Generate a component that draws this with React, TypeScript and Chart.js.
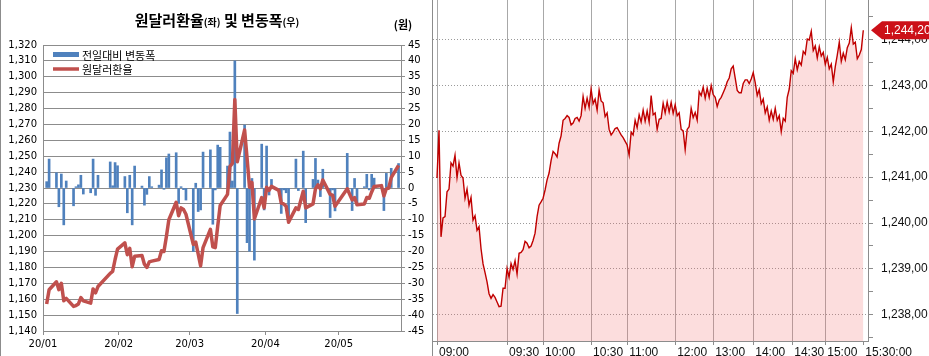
import React, { useEffect, useRef } from 'react';
import { Chart, registerables } from 'chart.js';

Chart.register(...registerables);

// ---------- Left chart data: daily USD/KRW (days since 2020-01-01) ----------
const tradeDays = [
  1, 2, 5, 6, 7, 8, 9, 12, 13, 14, 15, 16, 19, 20, 21, 22, 27, 28, 29, 30,
  33, 34, 35, 36, 37, 40, 41, 42, 43, 44, 47, 48, 49, 50, 51, 54, 55, 56, 57, 58,
  61, 62, 63, 64, 65, 68, 69, 70, 71, 72, 75, 76, 77, 78, 79, 82, 83, 84, 85, 86, 89, 90,
  91, 92, 93, 96, 97, 98, 99, 100, 103, 104, 106, 107, 110, 111, 112, 113, 114, 117, 118, 119,
  124, 126, 127, 128, 131, 132, 133, 134, 135, 138, 139, 140, 141, 142, 145,
];
const usdKrw = [
  1157.0, 1166.0, 1171.0, 1166.0, 1170.0, 1159.0, 1160.5, 1155.5, 1156.0, 1157.0, 1161.0, 1159.0, 1157.5, 1166.5, 1164.0, 1168.0, 1176.3, 1177.5, 1185.0, 1191.5,
  1195.5, 1188.0, 1192.0, 1180.5, 1187.0, 1187.5, 1182.0, 1180.0, 1183.5, 1184.0, 1185.0, 1190.5, 1190.0, 1199.5, 1210.0, 1221.0, 1212.5, 1217.5, 1216.5, 1213.5,
  1194.5, 1196.0, 1188.5, 1181.0, 1192.5, 1204.0, 1193.0, 1192.5, 1206.0, 1219.0, 1226.0, 1243.5, 1245.5, 1285.7, 1246.5, 1266.5, 1249.0, 1230.5, 1233.5, 1210.5, 1224.0, 1217.5,
  1230.5, 1228.5, 1231.0, 1228.5, 1220.5, 1220.0, 1218.5, 1208.5, 1217.5, 1216.5, 1228.0, 1217.5, 1220.0, 1229.5, 1232.0, 1229.5, 1235.0, 1226.0, 1225.5, 1218.5,
  1229.5, 1222.5, 1224.0, 1219.5, 1220.0, 1224.0, 1223.5, 1227.5, 1231.0, 1231.5, 1225.0, 1229.5, 1230.0, 1236.5, 1244.2,
];
const dailyChange = [
  2.0, 9.1, 4.8, -5.9, 4.4, -11.6, 2.2, -5.6, 0.4, 1.0, 4.0, -1.9, -1.5, 9.1, -2.3, 4.0, 8.2, 0.7, 8.0, 7.0,
  3.6, -7.8, 4.0, -11.6, 6.9, 0.6, -5.4, -2.0, 3.6, 0.4, 0.9, 5.7, -0.4, 9.5, 10.7, 11.1, -4.8, 0.4, -0.5, -3.8,
  -20.0, 1.5, -7.4, -6.9, 11.3, 12.0, -11.4, -0.6, 13.5, 12.8, 6.9, 17.6, 2.2, 40.0, -39.5, 19.8, -17.2, -19.9, 3.0, -22.7, 13.8, -6.9,
  13.2, -2.2, 2.7, -1.0, -8.0, -0.6, -1.5, -10.6, 9.1, -0.8, 11.6, -10.9, 2.7, 9.3, 2.5, -2.7, 5.9, -9.3, -0.6, -7.2,
  10.9, -7.1, 3.0, -5.4, 0.4, 4.3, -0.6, 4.3, 3.1, 0.5, -7.1, 4.6, 0.5, 6.2, 7.7,
];
const monthTickDays = [0, 31, 60, 91, 121];
const monthTickLabels = ['20/01', '20/02', '20/03', '20/04', '20/05'];
const changeLabel = '전일대비 변동폭';
const rateLabel = '원달러환율';
const titleParts = ['원달러환율', '(좌)', ' 및 변동폭', '(우)'];
const unitLabel = '(원)';

// ---------- Right chart data: intraday (tick index) ----------
const intradayRate = [
  1240.98, 1242.02, 1239.70, 1240.11, 1240.14, 1240.68, 1240.74, 1241.31, 1241.24, 1241.48,
  1240.99, 1241.31, 1241.04, 1240.98, 1240.54, 1240.74, 1240.39, 1240.56, 1240.06, 1240.16,
  1239.84, 1239.92, 1239.44, 1239.11, 1238.92, 1238.72, 1238.46, 1238.36, 1238.44, 1238.38,
  1238.28, 1238.18, 1238.19, 1238.58, 1238.58, 1239.01, 1238.82, 1239.12, 1238.99, 1239.18,
  1238.89, 1239.34, 1239.36, 1239.42, 1239.60, 1239.56, 1239.46, 1239.50, 1239.62, 1239.78,
  1240.14, 1240.39, 1240.46, 1240.54, 1240.72, 1240.94, 1241.09, 1241.36, 1241.56, 1241.51,
  1241.44, 1241.74, 1241.90, 1242.24, 1242.28, 1242.34, 1242.30, 1242.14, 1242.18, 1242.28,
  1242.30, 1242.22, 1242.34, 1242.76, 1242.50, 1242.72, 1242.52, 1242.92, 1242.60, 1242.70,
  1242.46, 1242.90, 1242.66, 1242.62, 1242.32, 1242.40, 1242.04, 1241.92, 1241.98, 1242.06,
  1242.08, 1242.00, 1241.92, 1241.86, 1241.78, 1241.70, 1241.48, 1241.98, 1241.92, 1242.24,
  1242.08, 1242.36, 1242.20, 1242.46, 1242.22, 1242.44, 1242.20, 1242.78, 1242.36, 1242.40,
  1242.04, 1242.26, 1242.28, 1242.61, 1242.40, 1242.64, 1242.42, 1242.63, 1242.39, 1242.58,
  1242.34, 1242.40, 1242.04, 1242.01, 1241.60, 1242.04, 1242.10, 1242.50, 1242.30, 1242.41,
  1242.24, 1242.86, 1242.78, 1242.96, 1242.72, 1242.94, 1242.74, 1243.00, 1242.80, 1242.74,
  1242.54, 1242.68, 1242.74, 1242.84, 1242.94, 1243.08, 1243.16, 1243.36, 1243.42, 1243.16,
  1242.89, 1242.84, 1242.84, 1243.04, 1243.12, 1243.12, 1243.04, 1243.14, 1243.28, 1243.06,
  1242.78, 1242.91, 1242.60, 1242.70, 1242.40, 1242.53, 1242.24, 1242.44, 1242.26, 1242.50,
  1242.24, 1242.34, 1241.99, 1242.28, 1242.22, 1242.74, 1242.92, 1243.32, 1243.26, 1243.58,
  1243.34, 1243.52, 1243.44, 1243.74, 1243.68, 1244.01, 1243.99, 1244.18, 1243.76, 1243.86,
  1243.60, 1243.84, 1243.64, 1243.72, 1243.46, 1243.61, 1243.36, 1243.46, 1243.08, 1243.41,
  1243.66, 1243.94, 1243.52, 1243.70, 1243.56, 1243.82, 1243.92, 1244.26, 1243.90, 1243.94,
  1243.58, 1243.66, 1243.78, 1244.20,
];
const timeTickIdx = [0, 35, 53, 77, 95, 119, 138, 158, 177.5, 194, 213];
const timeTickLabels = ['09:00', '09:30', '10:00', '10:30', '11:00', '12:00', '13:00', '14:00', '14:30', '15:00', '15:30:00'];

const GRID = '#8c8c8c';
const NUM_FONT = 'DejaVu Sans, Noto Sans CJK KR, sans-serif';
const KR_FONT = 'Noto Sans CJK KR, sans-serif';

const commaInt = (v: number) => Math.round(v).toLocaleString('en-US');
const commaDec = (v: number) =>
  v.toLocaleString('en-US', { minimumFractionDigits: 2, maximumFractionDigits: 2 }).replace('.', ',');

const leftDecor = {
  id: 'leftDecor',
  afterDraw(chart: any) {
    const ctx = chart.ctx as CanvasRenderingContext2D;
    ctx.save();
    // panel border
    ctx.strokeStyle = GRID;
    ctx.lineWidth = 1;
    ctx.beginPath();
    ctx.moveTo(0.5, 0);
    ctx.lineTo(0.5, chart.height);
    ctx.stroke();

    // title
    const fonts = [`bold 15px ${KR_FONT}`, `bold 10px ${KR_FONT}`, `bold 15px ${KR_FONT}`, `bold 10px ${KR_FONT}`];
    let total = 0;
    const widths = titleParts.map((t, i) => {
      ctx.font = fonts[i];
      const w = ctx.measureText(t).width;
      total += w;
      return w;
    });
    let x = 217 - total / 2;
    ctx.fillStyle = '#000';
    ctx.textBaseline = 'alphabetic';
    ctx.textAlign = 'left';
    titleParts.forEach((t, i) => {
      ctx.font = fonts[i];
      ctx.fillText(t, x, 26);
      x += widths[i];
    });
    ctx.font = `bold 11px ${KR_FONT}`;
    ctx.textAlign = 'center';
    ctx.textBaseline = 'middle';
    ctx.fillText(unitLabel, 403, 25);

    // legend
    const ds = chart.data.datasets;
    ctx.fillStyle = ds[0].backgroundColor;
    ctx.fillRect(53, 52, 26, 5);
    ctx.strokeStyle = ds[1].borderColor;
    ctx.lineWidth = 3.5;
    ctx.beginPath();
    ctx.moveTo(53, 69);
    ctx.lineTo(79, 69);
    ctx.stroke();
    ctx.fillStyle = '#000';
    ctx.font = `11px ${KR_FONT}`;
    ctx.textAlign = 'left';
    ctx.textBaseline = 'middle';
    ctx.fillText(ds[0].label, 82, 56);
    ctx.fillText(ds[1].label, 82, 70);
    ctx.restore();
  },
};

const priceTag = {
  id: 'priceTag',
  afterDraw(chart: any) {
    const ctx = chart.ctx as CanvasRenderingContext2D;
    const data = chart.data.datasets[0].data;
    const last = data[data.length - 1].y;
    const y = chart.scales.y.getPixelForValue(last);
    const x0 = chart.chartArea.right + 3;
    ctx.save();
    ctx.fillStyle = '#cc1018';
    ctx.beginPath();
    ctx.moveTo(x0, y);
    ctx.lineTo(x0 + 11, y - 9);
    ctx.lineTo(chart.width, y - 9);
    ctx.lineTo(chart.width, y + 9);
    ctx.lineTo(x0 + 11, y + 9);
    ctx.closePath();
    ctx.fill();
    ctx.fillStyle = '#fff';
    ctx.font = '12px Liberation Sans, Arial, sans-serif';
    ctx.textAlign = 'left';
    ctx.textBaseline = 'middle';
    ctx.fillText(commaDec(last), x0 + 13, y + 0.5);
    ctx.restore();
  },
};

export default function App() {
  const leftRef = useRef<HTMLCanvasElement>(null);
  const rightRef = useRef<HTMLCanvasElement>(null);

  useEffect(() => {
    const left = new Chart(leftRef.current as HTMLCanvasElement, {
      type: 'bar',
      data: {
        datasets: [
          {
            type: 'bar',
            label: changeLabel,
            data: tradeDays.map((d, i) => ({ x: d + 0.5, y: dailyChange[i] })),
            backgroundColor: '#4f81bd',
            barThickness: 2,
            yAxisID: 'y1',
            order: 2,
          } as any,
          {
            type: 'line',
            label: rateLabel,
            data: tradeDays.map((d, i) => ({ x: d + 0.5, y: usdKrw[i] })),
            borderColor: '#c0504d',
            backgroundColor: '#c0504d',
            borderWidth: 3.5,
            pointRadius: 0,
            tension: 0,
            borderJoinStyle: 'round',
            yAxisID: 'y',
            order: 1,
          } as any,
        ],
      },
      options: {
        responsive: false,
        animation: false,
        devicePixelRatio: 1,
        layout: { padding: { top: 45, left: 0, right: 0, bottom: 0 } },
        plugins: { legend: { display: false }, tooltip: { enabled: false } },
        scales: {
          x: {
            type: 'linear',
            min: 0,
            max: 146.5,
            offset: false,
            afterBuildTicks: (s: any) => {
              s.ticks = monthTickDays.map((v) => ({ value: v }));
            },
            afterFit: (s: any) => {
              s.height = 25;
              s.paddingLeft = 0;
              s.paddingRight = 0;
            },
            ticks: {
              autoSkip: false,
              maxRotation: 0,
              padding: 3,
              color: '#000',
              font: { family: NUM_FONT, size: 10 },
              callback: (v: any) => monthTickLabels[monthTickDays.indexOf(Number(v))] ?? '',
            },
            grid: { offset: false, drawOnChartArea: false, tickLength: 4, tickColor: GRID },
            border: { color: GRID },
          },
          y: {
            position: 'left',
            min: 1140,
            max: 1320,
            ticks: {
              stepSize: 10,
              padding: 6,
              color: '#000',
              font: { family: NUM_FONT, size: 10 },
              callback: (v: any) => commaInt(Number(v)),
            },
            afterFit: (s: any) => {
              s.width = 43;
              s.paddingTop = 0;
              s.paddingBottom = 0;
            },
            grid: { color: GRID, drawTicks: false },
            border: { color: GRID },
          },
          y1: {
            position: 'right',
            min: -45,
            max: 45,
            ticks: {
              stepSize: 5,
              padding: 3,
              color: '#000',
              font: { family: NUM_FONT, size: 10 },
            },
            afterFit: (s: any) => {
              s.width = 29;
              s.paddingTop = 0;
              s.paddingBottom = 0;
            },
            grid: { drawOnChartArea: false, tickLength: 4, tickColor: GRID },
            border: { color: GRID },
          },
        },
      } as any,
      plugins: [leftDecor],
    });

    const yMin = 1237.43;
    const yMax = 1244.86;
    const right = new Chart(rightRef.current as HTMLCanvasElement, {
      type: 'line',
      data: {
        datasets: [
          {
            label: 'USD/KRW',
            data: intradayRate.map((v, i) => ({ x: i, y: v })),
            borderColor: '#c00000',
            borderWidth: 1.4,
            backgroundColor: 'rgba(240, 100, 100, 0.22)',
            fill: 'start',
            pointRadius: 0,
            tension: 0,
          },
        ],
      },
      options: {
        responsive: false,
        animation: false,
        devicePixelRatio: 1,
        layout: { padding: 0 },
        plugins: { legend: { display: false }, tooltip: { enabled: false } },
        scales: {
          x: {
            type: 'linear',
            min: -2,
            max: 215.35,
            afterBuildTicks: (s: any) => {
              s.ticks = timeTickIdx.map((v) => ({ value: v }));
            },
            afterFit: (s: any) => {
              s.height = 15;
              s.paddingLeft = 0;
              s.paddingRight = 0;
            },
            ticks: {
              autoSkip: false,
              maxRotation: 0,
              align: 'start',
              labelOffset: 2,
              padding: 0,
              color: '#111',
              font: { family: 'Liberation Sans, Arial, sans-serif', size: 12 },
              callback: (v: any) => timeTickLabels[timeTickIdx.indexOf(Number(v))] ?? '',
            },
            grid: {
              color: (c: any) => (c.index === timeTickIdx.length - 1 ? 'rgba(0,0,0,0)' : '#a8a8a8'),
              tickLength: 4,
              tickColor: '#8c8c8c',
            },
            border: { color: '#8c8c8c' },
          },
          y: {
            position: 'right',
            min: yMin,
            max: yMax,
            afterBuildTicks: (s: any) => {
              const t = [];
              for (let v = Math.ceil(yMin * 2) / 2; v <= yMax; v += 0.5) t.push({ value: v });
              s.ticks = t;
            },
            afterFit: (s: any) => {
              s.width = 61;
              s.paddingTop = 0;
              s.paddingBottom = 0;
            },
            ticks: {
              autoSkip: false,
              padding: 8,
              color: '#111',
              font: { family: 'Liberation Sans, Arial, sans-serif', size: 12 },
              callback: (v: any) => (Number(v) % 1 === 0 ? commaDec(Number(v)) : ''),
            },
            grid: {
              color: (c: any) => (c.tick && c.tick.value % 1 === 0 ? '#9a9a9a' : 'rgba(0,0,0,0)'),
              tickLength: 5,
              tickColor: '#8c8c8c',
            },
            border: { color: '#8c8c8c', dash: [1, 2] },
          },
        },
      } as any,
      plugins: [priceTag],
    });

    return () => {
      left.destroy();
      right.destroy();
    };
  }, []);

  return (
    <div style={{ position: 'fixed', left: 0, top: 0, width: 929, height: 356, background: '#fff', overflow: 'hidden' }}>
      <canvas ref={leftRef} width={430} height={356} style={{ position: 'absolute', left: 0, top: 0 }} />
      <div style={{ position: 'absolute', left: 432, top: 0, width: 1, height: 356, background: '#8c8c8c' }} />
      <canvas ref={rightRef} width={496} height={356} style={{ position: 'absolute', left: 433, top: 0 }} />
    </div>
  );
}
